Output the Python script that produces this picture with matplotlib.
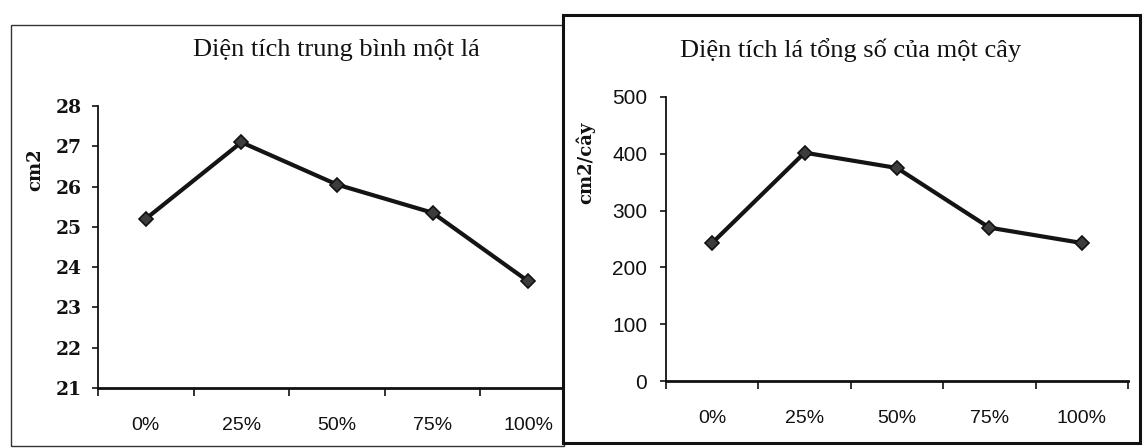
import matplotlib
matplotlib.use('Agg')
import matplotlib.pyplot as plt
import numpy as np
from matplotlib.patches import Rectangle

W, H = 1143, 448

# data
categories = ['0%', '25%', '50%', '75%', '100%']
leaf_area = [25.2, 27.1, 26.05, 25.35, 23.65]      # cm2 per leaf
plant_area = [243, 402, 375, 270, 243]             # cm2 per plant
left_yticks = [21, 22, 23, 24, 25, 26, 27, 28]
right_yticks = [0, 100, 200, 300, 400, 500]

LINE = '#141414'
FACE = '#3c3c3c'
INK = '#111111'


def box(x0, y0, x1, y1):
    """Pixel box (origin top-left) -> figure fraction [l, b, w, h]."""
    return [x0 / W, 1 - y1 / H, (x1 - x0) / W, (y1 - y0) / H]


def draw_panel(ax, values, yticks, tick_font, ypad):
    x = np.arange(len(categories))
    ax.plot(x, values, color=LINE, lw=3.0, marker='D', markersize=7.5,
            markerfacecolor=FACE, markeredgecolor=INK, markeredgewidth=1.2,
            zorder=3, clip_on=False)

    ax.set_xlim(-0.5, len(categories) - 0.5)
    ax.set_ylim(yticks[0], yticks[-1])

    # Excel style: ticks between categories, labels centred
    ax.set_xticks(np.arange(-0.5, len(categories), 1))
    ax.set_xticklabels([])
    ax.set_xticks(x, minor=True)
    ax.set_xticklabels(categories, minor=True, fontsize=14,
                       family='Liberation Sans', color=INK)
    ax.tick_params(axis='x', which='major', direction='out', length=6,
                   width=1.2, color=INK)
    ax.tick_params(axis='x', which='minor', length=0, pad=21)

    ax.set_yticks(yticks)
    ax.set_yticklabels([str(v) for v in yticks], color=INK, **tick_font)
    ax.tick_params(axis='y', direction='out', length=4, width=1.2,
                   color=INK, pad=ypad)

    for side in ['top', 'right']:
        ax.spines[side].set_visible(False)
    ax.spines['left'].set_color(INK)
    ax.spines['left'].set_linewidth(1.3)
    ax.spines['bottom'].set_color(INK)
    ax.spines['bottom'].set_linewidth(2.0)


fig = plt.figure(figsize=(W / 100, H / 100), dpi=100)
fig.patch.set_facecolor('white')

# left panel frame (its right edge sits under the right panel)
fig.add_artist(Rectangle((11 / W, 1 - 446 / H), (564 - 11) / W, (446 - 25) / H,
                         transform=fig.transFigure, fill=False,
                         edgecolor='#333333', lw=1.0, zorder=0.5))

ax1 = fig.add_axes(box(98, 106, 576, 388), zorder=0)
draw_panel(ax1, leaf_area, left_yticks,
           dict(fontsize=13.5, family='DejaVu Serif', fontweight='bold'), 8)

# right panel frame, drawn over the left chart
fig.add_artist(Rectangle((563 / W, 1 - 443 / H), (1140 - 563) / W, (443 - 15) / H,
                         transform=fig.transFigure, facecolor='white',
                         edgecolor=INK, lw=2.2, zorder=1))

ax2 = fig.add_axes(box(666, 97, 1128, 381), zorder=2)
ax2.patch.set_alpha(0)
draw_panel(ax2, plant_area, right_yticks,
           dict(fontsize=15, family='Liberation Sans'), 9.5)

# titles and axis labels
fig.text(336 / W, 1 - 50 / H, 'Diện tích trung bình một lá', ha='center', va='center',
         fontsize=19, family='Liberation Serif', color=INK, zorder=3)
fig.text(851 / W, 1 - 50 / H, 'Diện tích lá tổng số của một cây', ha='center',
         va='center', fontsize=19, family='Liberation Serif', color=INK, zorder=3)
fig.text(35 / W, 1 - 170 / H, 'cm2', rotation=90, ha='center', va='center',
         fontsize=13, family='DejaVu Serif', fontweight='bold', color=INK, zorder=3)
fig.text(585 / W, 1 - 163 / H, 'cm2/cây', rotation=90, ha='center', va='center',
         fontsize=13, family='DejaVu Serif', fontweight='bold', color=INK, zorder=3)

fig.savefig('out.png', dpi=100, facecolor='white')
